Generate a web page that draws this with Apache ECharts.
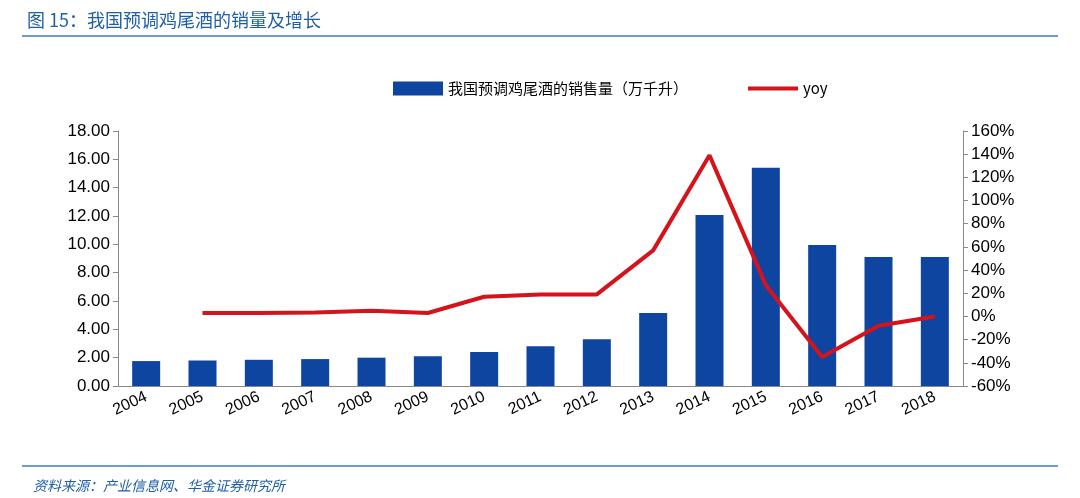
<!DOCTYPE html>
<html><head><meta charset="utf-8">
<script src="https://cdn.jsdelivr.net/npm/echarts@6/dist/echarts.min.js"></script>
<style>body{margin:0;background:#fff}#c{width:1080px;height:498px}</style>
</head><body><div id="c"></div>
<script>
const categories=['2004','2005','2006','2007','2008','2009','2010','2011','2012','2013','2014','2015','2016','2017','2018'];
const sales=[1.76,1.8,1.85,1.9,2.0,2.1,2.4,2.8,3.3,5.15,12.07,15.4,9.95,9.1,9.1];
const yoy=[null,3,3,3.5,5,3,17,19,19,57,139,27,-35,-8,0];
const leftTicks={min:0,max:18,interval:2};
const rightTicks={min:-60,max:160,interval:20};
const chart=echarts.init(document.getElementById('c'));
const f='"Noto Sans CJK SC",sans-serif';
chart.setOption({
 animation:false,
 title:[{text:'图 15：我国预调鸡尾酒的销量及增长',left:22,top:6,textStyle:{color:'#1f5fa8',fontSize:18,fontWeight:'normal',fontFamily:f}},
        {text:'资料来源：产业信息网、华金证券研究所',left:28,top:474,textStyle:{color:'#1f5fa8',fontSize:14,fontWeight:'normal',fontStyle:'italic',fontFamily:f}}],
 graphic:[{type:'line',shape:{x1:22,y1:36,x2:1058,y2:36},style:{stroke:'#3a7cc3',lineWidth:1.5}},
          {type:'line',shape:{x1:22,y1:466,x2:1058,y2:466},style:{stroke:'#3a7cc3',lineWidth:1.5}}],
 legend:{top:76,left:388,itemGap:60,itemWidth:50,itemHeight:14,textStyle:{fontSize:15,color:'#000',fontFamily:f},
   data:[{name:'我国预调鸡尾酒的销售量（万千升）',icon:'rect'},{name:'yoy',icon:'path://M0,0L50,0L50,4L0,4Z',itemHeight:4}]},
 grid:{left:118,right:117,top:131,bottom:112},
 xAxis:{type:'category',data:categories,axisTick:{show:false},axisLine:{lineStyle:{color:'#888'}},
   axisLabel:{rotate:25,fontSize:16,color:'#000',margin:10,fontFamily:'Liberation Sans'}},
 yAxis:[{type:'value',...leftTicks,splitLine:{show:false},axisLine:{show:true,lineStyle:{color:'#888'}},axisTick:{show:true,lineStyle:{color:'#888'}},
   axisLabel:{fontSize:17,color:'#000',formatter:v=>v.toFixed(2),fontFamily:'Liberation Sans'}},
  {type:'value',...rightTicks,splitLine:{show:false},axisLine:{show:true,lineStyle:{color:'#888'}},axisTick:{show:true,lineStyle:{color:'#888'}},
   axisLabel:{fontSize:17,color:'#000',formatter:'{value}%',fontFamily:'Liberation Sans'}}],
 series:[{name:'我国预调鸡尾酒的销售量（万千升）',type:'bar',data:sales,barWidth:28,itemStyle:{color:'#0e45a0'}},
  {name:'yoy',type:'line',yAxisIndex:1,data:yoy,symbol:'none',lineStyle:{color:'#d4131b',width:4},itemStyle:{color:'#d4131b'}}]
});
</script></body></html>
